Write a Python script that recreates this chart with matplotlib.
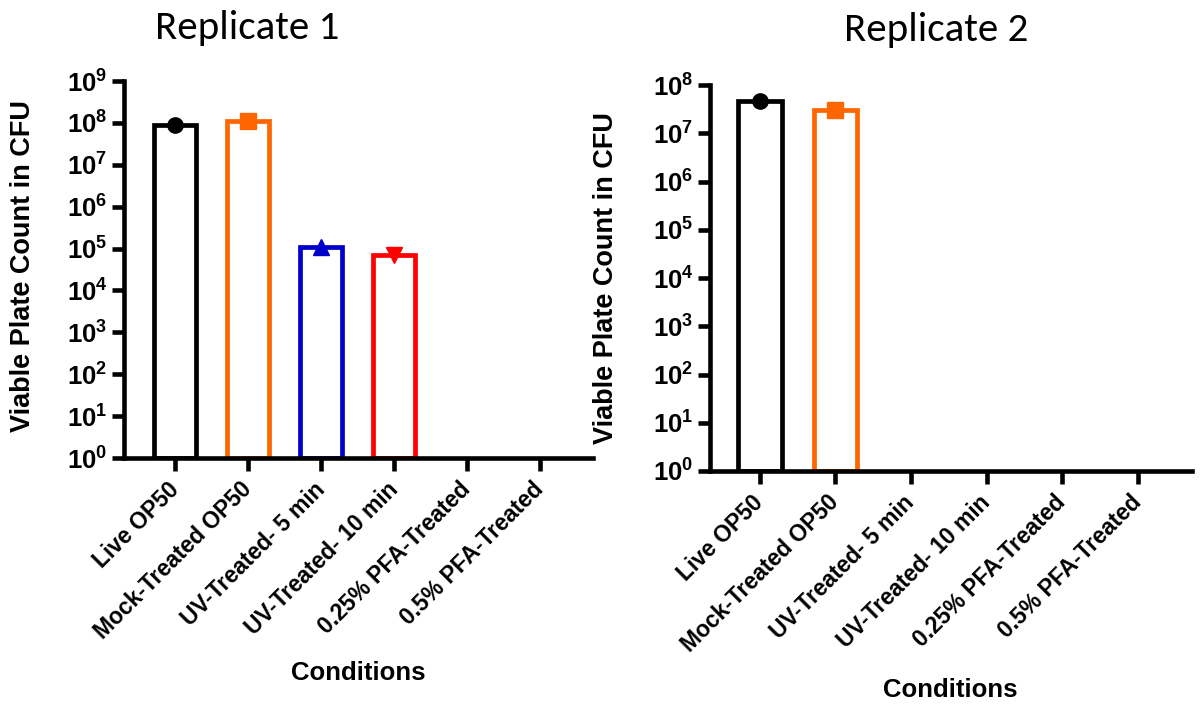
import matplotlib
matplotlib.use("Agg")
import matplotlib.pyplot as plt
import numpy as np

plt.rcParams['font.family'] = ['Liberation Sans', 'DejaVu Sans']
plt.rcParams['mathtext.fontset'] = 'custom'
plt.rcParams['mathtext.rm'] = 'Liberation Sans:bold'
plt.rcParams['mathtext.bf'] = 'Liberation Sans:bold'
plt.rcParams['mathtext.it'] = 'Liberation Sans:bold'

categories = ["Live OP50", "Mock-Treated OP50", "UV-Treated- 5 min",
              "UV-Treated- 10 min", "0.25% PFA-Treated", "0.5% PFA-Treated"]
rep1_values = [9.0e7, 1.08e8, 1.08e5, 7.0e4, 0, 0]
rep2_values = [4.6e7, 3.0e7, 0, 0, 0, 0]
colors = ["#000000", "#FF6600", "#0000CC", "#FF0000", "#000000", "#000000"]
markers = ["o", "s", "^", "v", "o", "o"]
titles = ["Replicate 1", "Replicate 2"]
ylabel = "Viable Plate Count in CFU"
xlabel = "Conditions"

fig = plt.figure(figsize=(12, 7.09), dpi=100)
W, H = 1200, 709

def px_axes(x0, x1, ytop, ybot):
    return fig.add_axes([x0 / W, 1 - ybot / H, (x1 - x0) / W, (ybot - ytop) / H])

ax1 = px_axes(124, 593, 81, 458)
ax2 = px_axes(710, 1192, 85, 471)

def draw(ax, values, ymax_exp, xlim):
    x = np.arange(len(categories))
    for i, v in enumerate(values):
        if v > 0:
            ax.bar(x[i], v - 1, bottom=1, width=0.58, facecolor='white',
                   edgecolor=colors[i], linewidth=3.4, zorder=2)
            ax.plot(x[i], v, marker=markers[i], color=colors[i],
                    markersize=11, linestyle='none', zorder=3, clip_on=False)
    ax.set_yscale('log')
    ax.set_ylim(1, 10 ** ymax_exp)
    ax.set_xlim(*xlim)
    ax.set_yticks([10 ** k for k in range(ymax_exp + 1)])
    ax.set_yticklabels([r'$10^{%d}$' % k for k in range(ymax_exp + 1)])
    ax.yaxis.set_minor_locator(matplotlib.ticker.NullLocator())
    ax.set_xticks(x)
    ax.set_xticklabels(categories, rotation=45, ha='right', va='center',
                       rotation_mode='anchor', fontsize=16.5, fontweight='bold')
    for lab in ax.get_yticklabels():
        lab.set_fontsize(18.5)
    ax.spines['top'].set_visible(False)
    ax.spines['right'].set_visible(False)
    for s in ['left', 'bottom']:
        ax.spines[s].set_linewidth(3.3)
    ax.tick_params(axis='both', which='major', length=9, width=3.3,
                   direction='out')
    ax.tick_params(axis='x', pad=11)
    ax.tick_params(axis='y', pad=3)

draw(ax1, rep1_values, 9, (-0.70, 5.72))
draw(ax2, rep2_values, 8, (-0.66, 5.72))

fig.text(247 / W, 1 - 28 / H, titles[0], ha='center', va='center',
         fontsize=29.5, family=['Carlito', 'Lato', 'DejaVu Sans'])
fig.text(936 / W, 1 - 30 / H, titles[1], ha='center', va='center',
         fontsize=29.5, family=['Carlito', 'Lato', 'DejaVu Sans'])

fig.text(23 / W, 1 - 266 / H, ylabel, rotation=90, ha='center', va='center',
         fontsize=19.5, fontweight='bold')
fig.text(606 / W, 1 - 278 / H, ylabel, rotation=90, ha='center', va='center',
         fontsize=19.5, fontweight='bold')

fig.text(358 / W, 1 - 673 / H, xlabel, ha='center', va='center',
         fontsize=18.5, fontweight='bold')
fig.text(950 / W, 1 - 690 / H, xlabel, ha='center', va='center',
         fontsize=18.5, fontweight='bold')

fig.savefig("out.png", dpi=100, facecolor='white')
